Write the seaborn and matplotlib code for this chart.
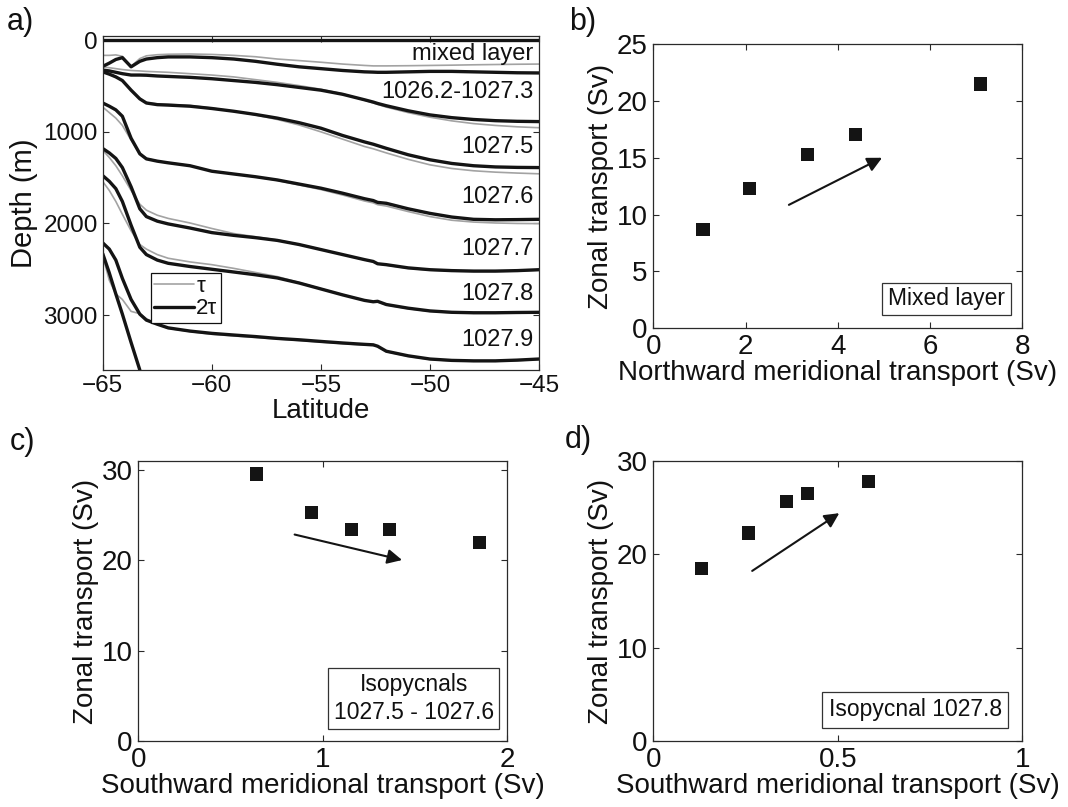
import numpy as np
import pandas as pd
import seaborn as sns
import matplotlib.pyplot as plt
from matplotlib.lines import Line2D
from matplotlib.patches import Rectangle

# ---- panel a: isopycnal depths along latitude (tau = grey, 2 tau = black)
lat = [-65, -64.7, -64.4, -64.1, -63.7, -63.3, -63.0, -62.5, -62, -61, -60, -59, -58, -57,
       -56, -55, -54, -53, -52.6, -52.4, -52, -51, -50, -49, -48, -47, -46, -45]

surface = [0] * len(lat)

tau_l1 = [165, 165, 160, 175, 285, 200, 170, 158, 153, 150, 155, 165, 180, 205,
          222, 240, 260, 275, 280, 280, 280, 278, 275, 272, 268, 265, 262, 260]
two_tau_l1 = [285, 250, 210, 190, 290, 230, 205, 190, 182, 182, 190, 205, 230, 262,
              290, 310, 330, 345, 348, 350, 350, 345, 340, 340, 345, 350, 355, 357]

tau_l2 = [290, 300, 310, 320, 330, 335, 340, 345, 350, 365, 380, 400, 430, 460,
          495, 535, 585, 655, 685, 700, 730, 790, 840, 880, 910, 930, 945, 955]
two_tau_l2 = [325, 335, 350, 365, 380, 380, 382, 390, 395, 405, 420, 440, 460, 485,
              515, 545, 590, 650, 675, 690, 715, 770, 815, 845, 865, 878, 885, 888]

tau_l3 = [345, 365, 395, 440, 545, 640, 680, 695, 700, 712, 740, 775, 815, 865,
          925, 1000, 1080, 1160, 1185, 1200, 1230, 1300, 1360, 1400, 1425, 1440, 1450, 1458]
two_tau_l3 = [345, 370, 400, 440, 545, 640, 685, 703, 708, 720, 745, 775, 810, 850,
              900, 960, 1040, 1110, 1135, 1150, 1180, 1250, 1305, 1345, 1370, 1383, 1388, 1390]

tau_l4 = [730, 790, 850, 930, 1090, 1240, 1290, 1318, 1335, 1368, 1428, 1460, 1492, 1530,
          1580, 1630, 1690, 1755, 1775, 1795, 1810, 1870, 1925, 1965, 1985, 1995, 2000, 2002]
two_tau_l4 = [685, 720, 760, 830, 1070, 1240, 1295, 1320, 1338, 1370, 1430, 1460, 1490, 1525,
              1570, 1615, 1670, 1730, 1750, 1770, 1780, 1840, 1890, 1930, 1955, 1960, 1958, 1955]

tau_l5 = [1200, 1280, 1370, 1480, 1640, 1790, 1855, 1910, 1945, 1995, 2055, 2110, 2145, 2180,
          2228, 2283, 2340, 2398, 2418, 2442, 2455, 2490, 2510, 2520, 2525, 2525, 2520, 2510]
two_tau_l5 = [1182, 1230, 1290, 1390, 1600, 1840, 1925, 1975, 2005, 2050, 2100, 2130, 2155, 2185,
              2230, 2285, 2340, 2395, 2415, 2440, 2450, 2485, 2505, 2515, 2520, 2520, 2515, 2505]

tau_l6 = [1543, 1640, 1760, 1900, 2080, 2230, 2280, 2340, 2380, 2420, 2450, 2490, 2535, 2580,
          2645, 2712, 2778, 2840, 2858, 2855, 2890, 2930, 2960, 2975, 2980, 2980, 2977, 2975]
two_tau_l6 = [1478, 1540, 1620, 1760, 2020, 2260, 2340, 2400, 2435, 2470, 2500, 2530, 2560, 2595,
              2650, 2715, 2780, 2840, 2855, 2850, 2885, 2925, 2955, 2970, 2975, 2975, 2972, 2970]

tau_l7 = [2356, 2620, 2770, 2830, 2960, 2985, 3040, 3100, 3145, 3180, 3210, 3228, 3245, 3262,
          3278, 3295, 3312, 3328, 3332, 3345, 3400, 3450, 3485, 3500, 3505, 3505, 3497, 3485]
two_tau_l7 = [2212, 2280, 2400, 2600, 2830, 2990, 3055, 3100, 3140, 3175, 3200, 3218, 3235, 3255,
              3270, 3288, 3305, 3320, 3325, 3340, 3395, 3445, 3480, 3495, 3500, 3500, 3492, 3480]

two_tau_l8 = [2330, 2540, 2770, 2990, 3300, 3600] + [np.nan] * 22
tau_l8 = two_tau_l8

layer_names = ['mixed layer', '1026.2-1027.3', '1027.5', '1027.6', '1027.7', '1027.8', '1027.9']
layer_label_depth = [153, 564, 1165, 1711, 2275, 2766, 3269]

# ---- panels b-d: transports
b_meridional = [1.08, 2.08, 3.34, 4.38, 7.09]
b_zonal = [8.7, 12.3, 15.3, 17.05, 21.5]
b_arrow = [(2.94, 10.85), (4.96, 15.0)]

c_meridional = [0.643, 0.938, 1.156, 1.361, 1.851]
c_zonal = [29.56, 25.3, 23.4, 23.4, 22.0]
c_arrow = [(0.848, 22.87), (1.431, 20.05)]

d_meridional = [0.130, 0.258, 0.361, 0.417, 0.584]
d_zonal = [18.5, 22.3, 25.7, 26.55, 27.8]
d_arrow = [(0.268, 18.24), (0.504, 24.42)]

sns.set_style("ticks")
plt.rcParams['font.family'] = ['Liberation Sans', 'DejaVu Sans']
plt.rcParams['axes.edgecolor'] = '#2a2a2a'
plt.rcParams['axes.linewidth'] = 0.9
for key in ['text.color', 'axes.labelcolor', 'xtick.color', 'ytick.color']:
    plt.rcParams[key] = '#111111'

fig = plt.figure(figsize=(10.68, 8.07), dpi=100)
ax_a = fig.add_axes([0.0962, 0.5415, 0.4085, 0.4143])
ax_b = fig.add_axes([0.6117, 0.5936, 0.3455, 0.3515])
ax_c = fig.add_axes([0.1295, 0.0814, 0.3452, 0.3473])
ax_d = fig.add_axes([0.6117, 0.0814, 0.3455, 0.3473])

GREY = '#a3a3a3'
BLACK = '#141414'

# panel a
tau_lines = [surface, tau_l1, tau_l2, tau_l3, tau_l4, tau_l5, tau_l6, tau_l7, tau_l8]
two_tau_lines = [surface, two_tau_l1, two_tau_l2, two_tau_l3, two_tau_l4,
                 two_tau_l5, two_tau_l6, two_tau_l7, two_tau_l8]
for dep in tau_lines:
    sns.lineplot(x=lat, y=dep, ax=ax_a, color=GREY, lw=1.2, estimator=None, sort=False)
for dep in two_tau_lines:
    sns.lineplot(x=lat, y=dep, ax=ax_a, color=BLACK, lw=2.4, estimator=None, sort=False)

for name, dep in zip(layer_names, layer_label_depth):
    ax_a.text(-45.25, dep, name, ha='right', va='center', fontsize=17, color='#111111')

ax_a.set_xlim(-65, -45)
ax_a.set_ylim(3600, -50)
ax_a.set_xticks([-65, -60, -55, -50, -45])
ax_a.set_yticks([0, 1000, 2000, 3000])
ax_a.set_xlabel('Latitude', fontsize=20, labelpad=1)
ax_a.set_ylabel('Depth (m)', fontsize=21, labelpad=4)
ax_a.tick_params(labelsize=17.5)

handles = [Line2D([], [], color=GREY, lw=1.2), Line2D([], [], color=BLACK, lw=2.4)]
leg = ax_a.legend(handles, ['\u03c4', '2\u03c4'], loc='lower left', bbox_to_anchor=(0.11, 0.1415),
                  fontsize=16, frameon=True, fancybox=False, edgecolor='#111111', framealpha=1,
                  handlelength=1.8, handletextpad=0.1, borderpad=0.15, labelspacing=0.05,
                  borderaxespad=0)
leg.get_frame().set_linewidth(0.9)


def scatter_panel(ax, xs, ys, arrow, xlim, ylim, xticks, yticks, xlabel, box, lines):
    sns.scatterplot(x=xs, y=ys, ax=ax, marker='s', s=92, color=BLACK, edgecolor='none')
    ax.annotate('', xy=arrow[1], xytext=arrow[0],
                arrowprops=dict(arrowstyle='-|>', lw=1.5, color=BLACK, mutation_scale=22,
                                shrinkA=0, shrinkB=0))
    ax.set_xlim(*xlim)
    ax.set_ylim(*ylim)
    ax.set_xticks(xticks)
    ax.set_yticks(yticks)
    ax.set_xlabel(xlabel, fontsize=20, labelpad=0)
    ax.set_ylabel('Zonal transport (Sv)', fontsize=20, labelpad=2)
    ax.tick_params(labelsize=20)
    ax.tick_params(axis='x', pad=4)
    ax.tick_params(axis='y', pad=4)
    x0, y0, x1, y1 = box
    ax.add_patch(Rectangle((x0, y0), x1 - x0, y1 - y0, transform=ax.transAxes,
                           fill=False, edgecolor='#333333', lw=0.9, clip_on=False))
    ax.text((x0 + x1) / 2, (y0 + y1) / 2, lines, transform=ax.transAxes, ha='center',
            va='center', fontsize=16.5, linespacing=1.3, color='#111111')


scatter_panel(ax_b, b_meridional, b_zonal, b_arrow, (0, 8), (0, 25), [0, 2, 4, 6, 8],
              [0, 5, 10, 15, 20, 25], 'Northward meridional transport (Sv)',
              (0.62, 0.045, 0.9686, 0.16), 'Mixed layer')
scatter_panel(ax_c, c_meridional, c_zonal, c_arrow, (0, 2), (0, 31), [0, 1, 2],
              [0, 10, 20, 30], 'Southward meridional transport (Sv)',
              (0.515, 0.044, 0.979, 0.262), 'Isopycnals\n1027.5 - 1027.6')
scatter_panel(ax_d, d_meridional, d_zonal, d_arrow, (0, 1), (0, 30), [0, 0.5, 1],
              [0, 10, 20, 30], 'Southward meridional transport (Sv)',
              (0.458, 0.047, 0.961, 0.177), 'Isopycnal 1027.8')
ax_d.set_xticklabels(['0', '0.5', '1'])

for ax in [ax_a, ax_b, ax_c, ax_d]:
    ax.tick_params(direction='in', top=True, right=True, length=4, width=0.8, color='#2a2a2a')

for txt, x, y in [('a)', 0.006, 0.973), ('b)', 0.533, 0.973), ('c)', 0.009, 0.452), ('d)', 0.529, 0.455)]:
    fig.text(x, y, txt, fontsize=22, va='center', ha='left', color='#111111')

fig.savefig('out.png', dpi=100)
